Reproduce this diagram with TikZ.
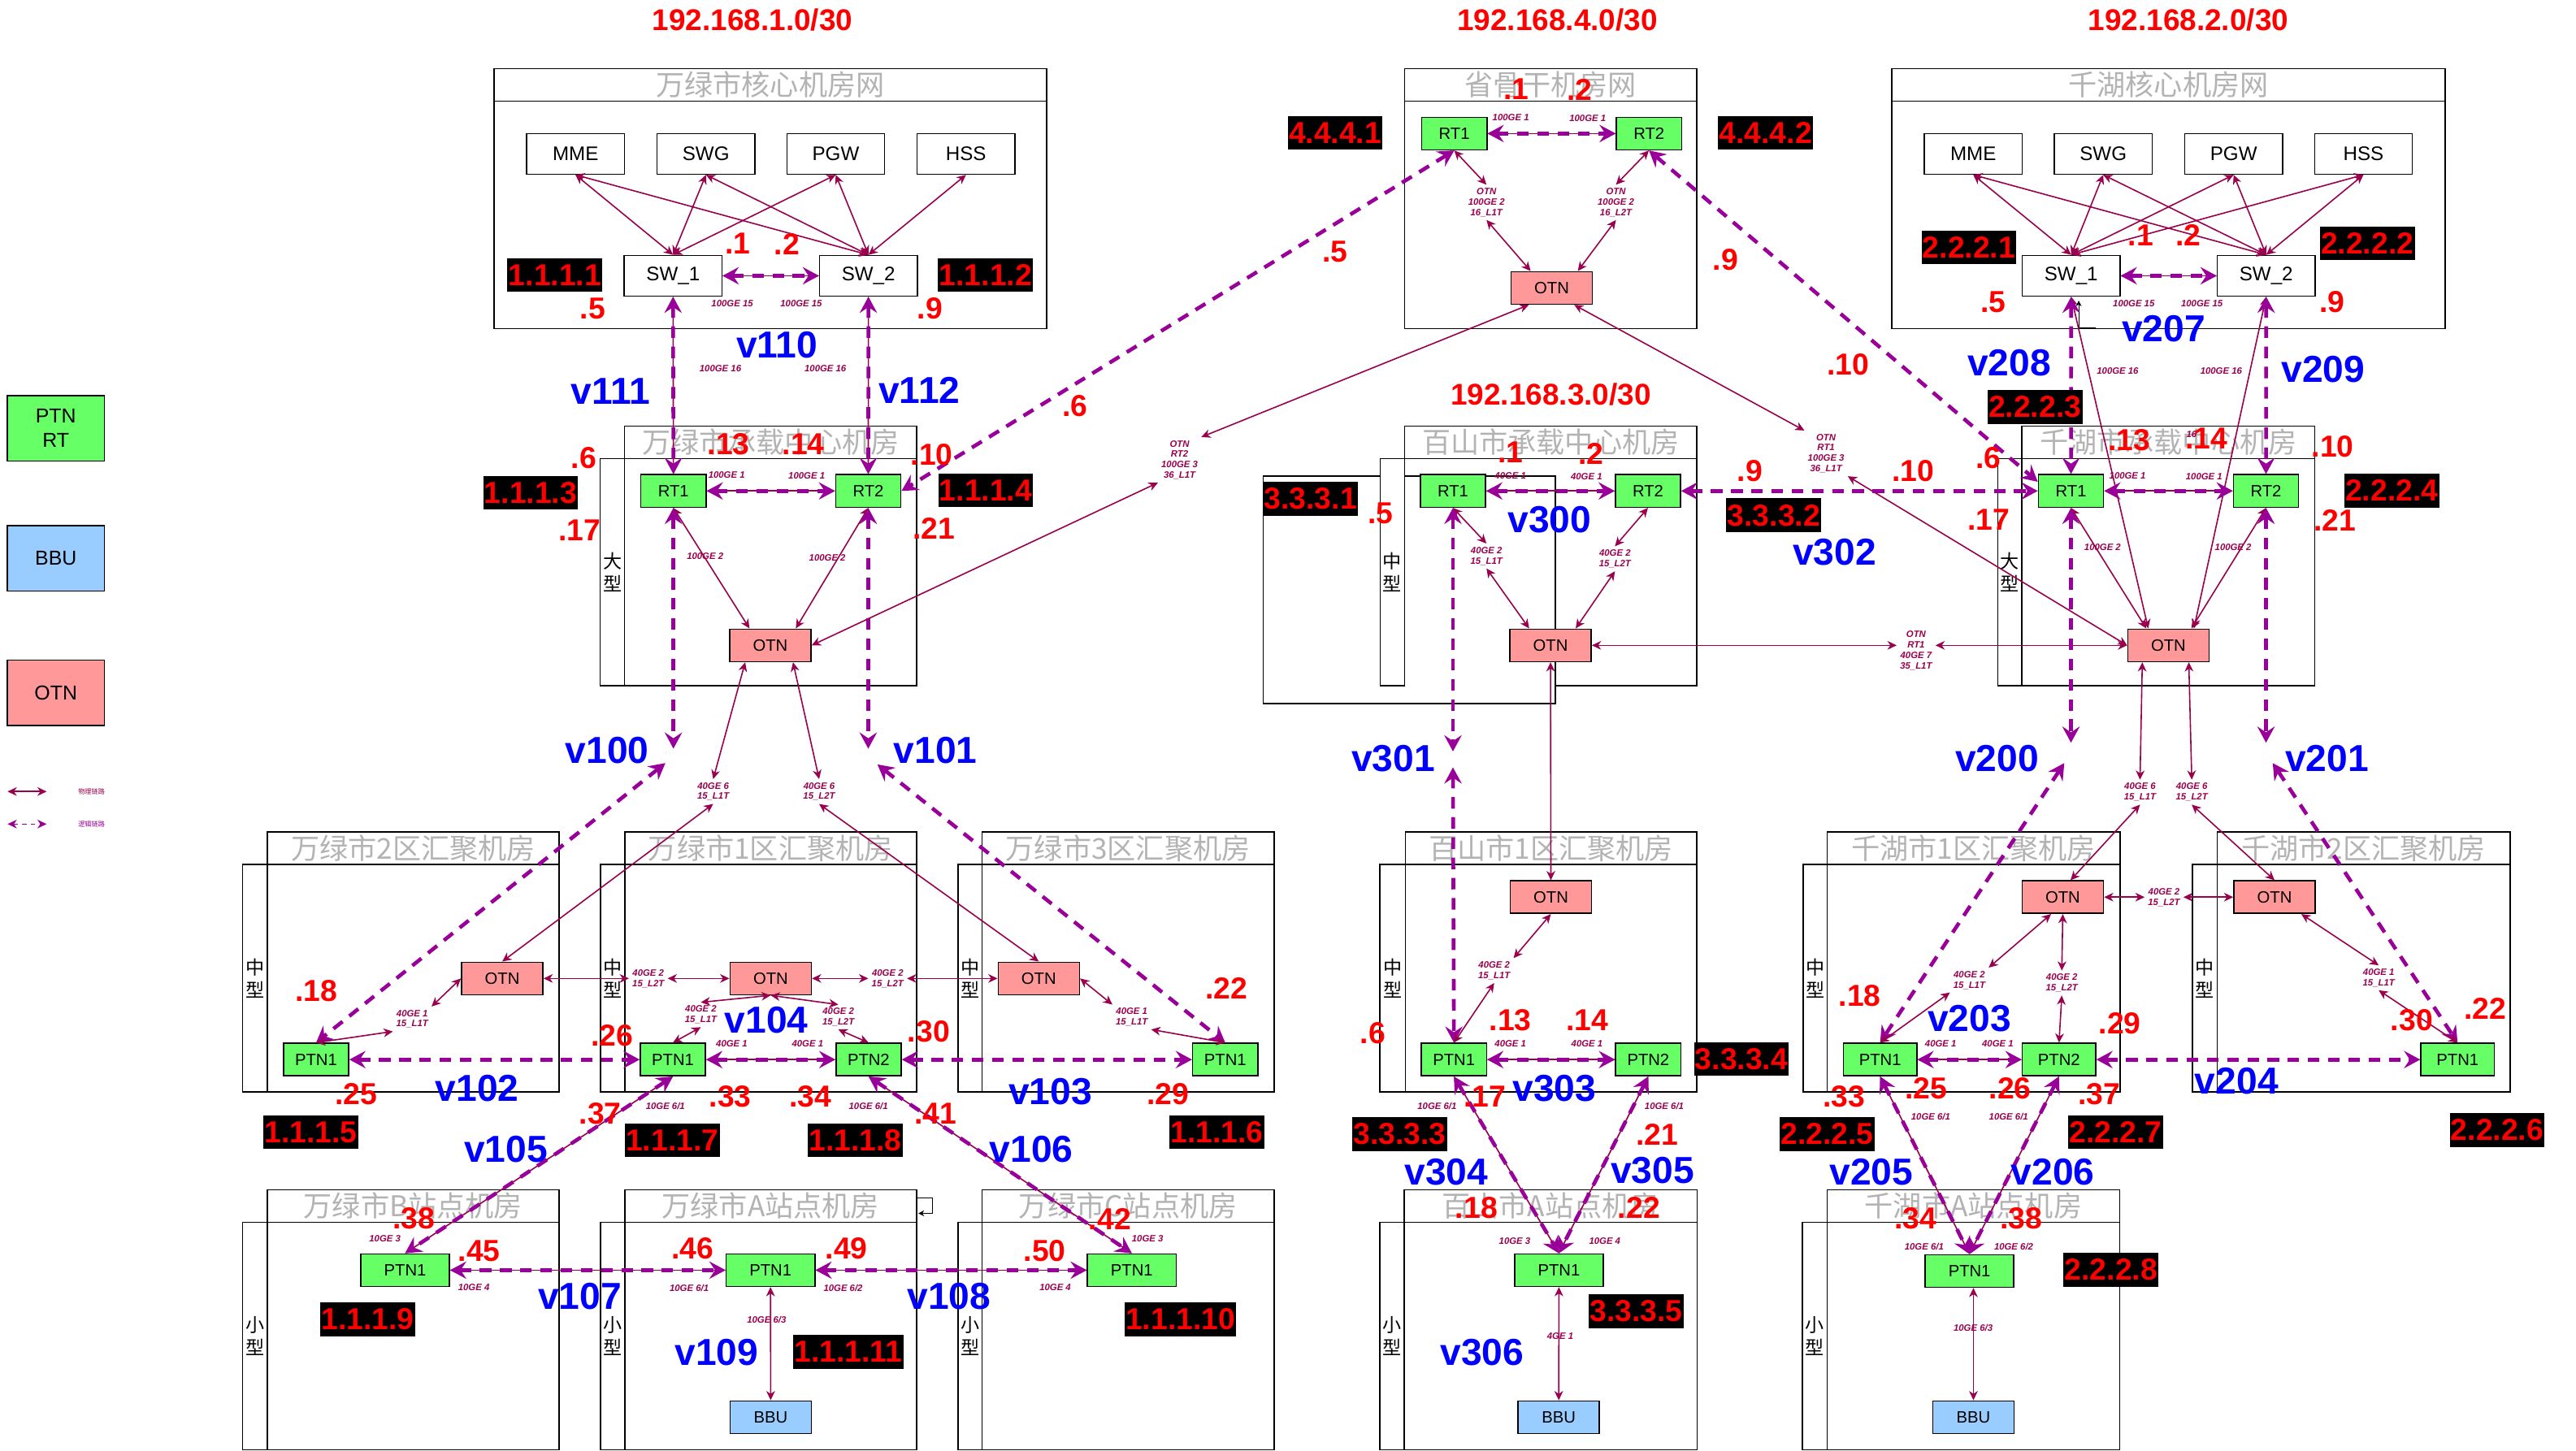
\documentclass[tikz,border=0pt]{standalone}
\usepackage{fontspec}
\setmainfont{Liberation Sans}
\newfontfamily\cjkfont{Noto Sans CJK SC}
\usetikzlibrary{arrows.meta,calc}

\definecolor{ptngreen}{HTML}{66FF66}
\definecolor{bbublue}{HTML}{99CCFF}
\definecolor{otnred}{HTML}{FF9999}
\definecolor{physcol}{HTML}{99004D}
\definecolor{logicol}{HTML}{990099}
\definecolor{titlegray}{HTML}{B3B3B3}

\tikzset{
  physhead/.tip={Stealth[length=3.2pt,width=3pt,inset=1pt]},
  logihead/.tip={Stealth[length=5.6pt,width=6pt,inset=2pt]},
  hallline/.style={draw=black, line width=0.45pt},
  halltitle/.style={font={\cjkfont\fontsize{9.9}{11}\selectfont}, text=titlegray, inner sep=0pt},
  sidetext/.style={font={\cjkfont\fontsize{6.5}{8}\selectfont}, align=center, inner sep=0pt},
  dev/.style={draw=black, line width=0.45pt, inner sep=0pt, minimum height=0.396cm, font=\fontsize{5.7}{6.8}\selectfont},
  corebox/.style={dev, fill=white, minimum width=1.19cm, minimum height=0.494cm, font=\fontsize{6.8}{8}\selectfont},
  rtbox/.style={dev, fill=ptngreen, minimum width=0.794cm},
  otnbox/.style={dev, fill=otnred, minimum width=0.99cm},
  siteptn/.style={dev, fill=ptngreen, minimum width=1.08cm},
  bbubox/.style={dev, fill=bbublue, minimum width=0.99cm},
  legbox/.style={dev, minimum width=1.18cm, minimum height=0.794cm, align=center, font=\fontsize{7}{8.4}\selectfont},
  phys/.style={draw=physcol, line width=0.45pt, physhead-physhead},
  logi/.style={draw=logicol, line width=1.3pt, dash pattern=on 4pt off 3pt, logihead-logihead},
  logithin/.style={draw=logicol, line width=0.4pt, dash pattern=on 1.5pt off 1.5pt, physhead-physhead},
  lbl/.style={font={\bfseries\itshape\fontsize{3.2}{3.6}\selectfont}, text=physcol, align=center, inner sep=1pt},
  ipdot/.style={font={\bfseries\fontsize{10.5}{12}\selectfont}, text=red, inner sep=0pt},
  ipbox/.style={fill=black, font={\bfseries\fontsize{10.5}{12}\selectfont}, text=red, inner xsep=0.4pt, inner ysep=0pt, minimum height=0.41cm},
  vtag/.style={font={\bfseries\fontsize{13}{15}\selectfont}, text=blue, inner sep=0pt},
  subnet/.style={font={\bfseries\fontsize{10.4}{12}\selectfont}, text=red, inner sep=0pt},
  legtext/.style={font={\cjkfont\fontsize{2.3}{3}\selectfont}, inner sep=0pt},
}

% core room: name, x1, x2, title
\newcommand{\corehall}[4]{%
  \draw[hallline] (#2,41.7) rectangle (#3,200);
  \draw[hallline] (#2,61.5) -- (#3,61.5);
  \node[halltitle] (#1) at ({(#2+#3)/2},51.6) {#4};
}
% room with side strip: name, x1, x2, ytop, ydiv, ybot, xstrip, title, side text
\newcommand{\roomhall}[9]{%
  \draw[hallline] (#2,#4) rectangle (#3,#5);
  \node[halltitle] (#1) at ({(#2+#3)/2},{(#4+#5)/2}) {#8};
  \draw[hallline] (#2,#5) rectangle (#3,#6);
  \draw[hallline,fill=white] (#7,#5) rectangle (#2,#6);
  \node[sidetext] (#1side) at ({(#7+#2)/2},{(#5+#6)/2}) {#9};
}

\begin{document}
\begin{tikzpicture}[x=0.02cm, y=-0.02cm]
\fill[white] (0,0) rectangle (1568,883);
\useasboundingbox (0,0) rectangle (1568,883);

% subnets
\node[subnet] (net1) at (458,12) {192.168.1.0/30};
\node[subnet] (net4) at (948,12) {192.168.4.0/30};
\node[subnet] (net2) at (1332,12) {192.168.2.0/30};
\node[subnet] (net3) at (944,240) {192.168.3.0/30};

% rooms
\corehall{wlCore}{300.8}{637}{万绿市核心机房网}
\corehall{sgCore}{854.9}{1032.8}{省骨干机房网}
\corehall{qhCore}{1151.6}{1488.2}{千湖核心机房网}

\roomhall{wlHub}{380.2}{557.9}{259.4}{279.2}{417.6}{365.3}{万绿市承载中心机房}{大\\型}
\roomhall{bsHub}{855}{1032.8}{259.4}{279.2}{417.6}{840.1}{百山市承载中心机房}{中\\型}
\draw[hallline,fill=white] (769,289.9) rectangle (946.7,428.4);
\draw[hallline,fill=white] (840.1,279.2) rectangle (855,417.6);
\node[sidetext] (bsHubside2) at (847.5,348.4) {中\\型};
\roomhall{qhHub}{1230.7}{1409}{259.4}{279.2}{417.6}{1216}{千湖市承载中心机房}{大\\型}

\roomhall{wlAgg2}{162.6}{340.4}{506.6}{526.4}{664.8}{147.6}{万绿市2区汇聚机房}{中\\型}
\roomhall{wlAgg1}{380.4}{557.8}{506.6}{526.4}{664.8}{365.4}{万绿市1区汇聚机房}{中\\型}
\roomhall{wlAgg3}{597.8}{775.5}{506.6}{526.4}{664.8}{583.2}{万绿市3区汇聚机房}{中\\型}
\roomhall{bsAgg1}{855.4}{1032.7}{506.6}{526.4}{664.8}{840}{百山市1区汇聚机房}{中\\型}
\roomhall{qhAgg1}{1112.2}{1290.4}{506.6}{526.4}{664.8}{1097.6}{千湖市1区汇聚机房}{中\\型}
\roomhall{qhAgg2}{1349.6}{1527.8}{506.6}{526.4}{664.8}{1334.6}{千湖市2区汇聚机房}{中\\型}

\roomhall{wlSiteB}{162.6}{340.4}{724.3}{744.1}{882.6}{147.6}{万绿市B站点机房}{小\\型}
\roomhall{wlSiteA}{380.4}{557.8}{724.3}{744.1}{882.6}{365.4}{万绿市A站点机房}{小\\型}
\roomhall{wlSiteC}{597.8}{775.5}{724.3}{744.1}{882.6}{583.2}{万绿市C站点机房}{小\\型}
\roomhall{bsSiteA}{854.6}{1033}{724.3}{744.1}{882.6}{840}{百山市A站点机房}{小\\型}
\roomhall{qhSiteA}{1112.2}{1290.2}{724.3}{744.1}{882.6}{1097.2}{千湖市A站点机房}{小\\型}

% stray connector stubs
\draw[black, line width=0.3pt, -{Stealth[length=2pt,width=2pt]}] (1275.5,199.5) -- (1265.3,199.5) -- (1265.3,183);
\draw[black, line width=0.3pt, -{Stealth[length=2pt,width=2pt]}] (557.8,729.3) -- (567.4,729.3) -- (567.4,738.7) -- (559,738.7);

% legend
\node[legbox, fill=ptngreen] (lgPTN) at (34,260.8) {PTN\\RT};
\node[legbox, fill=bbublue] (lgBBU) at (34,340) {BBU};
\node[legbox, fill=otnred] (lgOTN) at (34,421.8) {OTN};
\coordinate (lgA1) at (4.6,481.9);
\coordinate (lgA2) at (28.4,481.9);
\coordinate (lgB1) at (4.6,501.7);
\coordinate (lgB2) at (28.4,501.7);
\draw[phys] (lgA1) -- (lgA2);
\draw[logithin] (lgB1) -- (lgB2);
\node[legtext, text=physcol] (lgTxtA) at (55.7,481.9) {物理链路};
\node[legtext, text=logicol] (lgTxtB) at (55.7,501.7) {逻辑链路};

% core devices
\node[corebox] (wlMME) at (350.3,93.7) {MME};
\node[corebox] (wlSWG) at (429.7,93.7) {SWG};
\node[corebox] (wlPGW) at (508.7,93.7) {PGW};
\node[corebox] (wlHSS) at (588,93.7) {HSS};
\node[corebox] (wlSW1) at (409.7,167.9) {SW\_1};
\node[corebox] (wlSW2) at (528.6,167.9) {SW\_2};
\node[corebox] (qhMME) at (1201.1,93.7) {MME};
\node[corebox] (qhSWG) at (1280.2,93.7) {SWG};
\node[corebox] (qhPGW) at (1359.6,93.7) {PGW};
\node[corebox] (qhHSS) at (1438.6,93.7) {HSS};
\node[corebox] (qhSW1) at (1260.7,167.9) {SW\_1};
\node[corebox] (qhSW2) at (1379.4,167.9) {SW\_2};

% backbone and hub devices
\node[rtbox] (sgRT1) at (885.2,81.3) {RT1};
\node[rtbox] (sgRT2) at (1003.7,81.3) {RT2};
\node[otnbox] (sgOTN) at (944.5,175.3) {OTN};
\node[rtbox] (wlRT1) at (409.9,298.9) {RT1};
\node[rtbox] (wlRT2) at (528.5,298.9) {RT2};
\node[otnbox] (wlOTN) at (468.9,392.9) {OTN};
\node[rtbox] (bsRT1) at (884.4,298.9) {RT1};
\node[rtbox] (bsRT2) at (1003.1,298.9) {RT2};
\node[otnbox] (bsOTN) at (943.8,392.9) {OTN};
\node[rtbox] (qhRT1) at (1260.6,298.9) {RT1};
\node[rtbox] (qhRT2) at (1379.3,298.9) {RT2};
\node[otnbox] (qhOTN) at (1319.9,392.9) {OTN};

% aggregation devices
\node[otnbox] (wl2OTN) at (305.7,595.7) {OTN};
\node[rtbox] (wl2PTN1) at (192.4,645.1) {PTN1};
\node[otnbox] (wl1OTN) at (469.1,595.7) {OTN};
\node[rtbox] (wl1PTN1) at (409.6,645.1) {PTN1};
\node[rtbox] (wl1PTN2) at (528.7,645.1) {PTN2};
\node[otnbox] (wl3OTN) at (632.3,595.7) {OTN};
\node[rtbox] (wl3PTN1) at (745.8,645.1) {PTN1};
\node[otnbox] (bs1OTN) at (944,546.2) {OTN};
\node[rtbox] (bs1PTN1) at (885,645.1) {PTN1};
\node[rtbox] (bs1PTN2) at (1003.3,645.1) {PTN2};
\node[otnbox] (qh1OTN) at (1255.6,546.2) {OTN};
\node[rtbox, minimum width=0.894cm] (qh1PTN1) at (1144.4,645.1) {PTN1};
\node[rtbox, minimum width=0.894cm] (qh1PTN2) at (1253.3,645.1) {PTN2};
\node[otnbox] (qh2OTN) at (1384.5,546.2) {OTN};
\node[rtbox, minimum width=0.894cm] (qh2PTN1) at (1495.9,645.1) {PTN1};

% site devices
\node[siteptn] (wlBPTN) at (246.6,773.3) {PTN1};
\node[siteptn] (wlAPTN) at (469,773.3) {PTN1};
\node[bbubox] (wlABBU) at (469.1,862.8) {BBU};
\node[siteptn] (wlCPTN) at (688.9,773.3) {PTN1};
\node[siteptn] (bsAPTN) at (948.9,773.3) {PTN1};
\node[bbubox] (bsABBU) at (948.8,862.8) {BBU};
\node[siteptn] (qhAPTN) at (1198.8,773.8) {PTN1};
\node[bbubox] (qhABBU) at (1201.2,862.8) {BBU};

% labels sitting between link halves
\node[lbl] (sgL1) at (904.8,123.2) {OTN\\100GE 2\\16\_L1T};
\node[lbl] (sgL2) at (983.6,123.2) {OTN\\100GE 2\\16\_L2T};
\node[lbl] (sgLW) at (718,280) {OTN\\RT2\\100GE 3\\36\_L1T};
\node[lbl] (sgLE) at (1111.5,276) {OTN\\RT1\\100GE 3\\36\_L1T};
\node[lbl] (bsL1) at (904.8,338.5) {40GE 2\\15\_L1T};
\node[lbl] (bsL2) at (983,340.2) {40GE 2\\15\_L2T};
\node[lbl] (bsL7) at (1166.3,396) {OTN\\RT1\\40GE 7\\35\_L1T};
\node[lbl] (wlL6a) at (434.1,481.9) {40GE 6\\15\_L1T};
\node[lbl] (wlL6b) at (498.6,481.9) {40GE 6\\15\_L2T};
\node[lbl] (qhL6a) at (1302.6,482.3) {40GE 6\\15\_L1T};
\node[lbl] (qhL6b) at (1334.1,482.3) {40GE 6\\15\_L2T};
\node[lbl] (wl2L) at (250.9,620.4) {40GE 1\\15\_L1T};
\node[lbl] (wl1La) at (394.6,595.8) {40GE 2\\15\_L2T};
\node[lbl] (wl1Lb) at (540.3,595.8) {40GE 2\\15\_L2T};
\node[lbl] (wl1Lc) at (426.6,617.8) {40GE 2\\15\_L1T};
\node[lbl] (wl1Ld) at (510.3,619.2) {40GE 2\\15\_L2T};
\node[lbl] (wl3L) at (688.9,619.2) {40GE 1\\15\_L1T};
\node[lbl] (bs1L) at (909.5,590.9) {40GE 2\\15\_L1T};
\node[lbl] (qh1La) at (1317.2,546.4) {40GE 2\\15\_L2T};
\node[lbl] (qh1Lb) at (1198.7,596.7) {40GE 2\\15\_L1T};
\node[lbl] (qh1Lc) at (1255,598.5) {40GE 2\\15\_L2T};
\node[lbl] (qh2L) at (1447.9,595.3) {40GE 1\\15\_L1T};

% gaps in the logical links
\coordinate (wlGapL1) at (409.9,455.8);
\coordinate (wlGapL2) at (405,464.6);
\coordinate (wlGapR1) at (528.5,455.8);
\coordinate (wlGapR2) at (534.1,465.4);
\coordinate (bsGap1) at (884.4,457.5);
\coordinate (bsGap2) at (884.4,467.2);
\coordinate (qhGapL1) at (1260.6,452.2);
\coordinate (qhGapL2) at (1256.5,464.6);
\coordinate (qhGapR1) at (1379.3,452.2);
\coordinate (qhGapR2) at (1383.4,464.6);

% core links
\foreach \a in {wlMME,wlSWG,wlPGW}{
  \draw[phys] (\a.south) -- (wlSW1.north);
  \draw[phys] (\a.south) -- (wlSW2.north);
}
\draw[phys] (wlHSS.south) -- (wlSW2.north);
\foreach \a in {qhMME,qhSWG,qhPGW,qhHSS}{
  \draw[phys] (\a.south) -- (qhSW1.north);
  \draw[phys] (\a.south) -- (qhSW2.north);
}
\draw[phys] (wlSW1.east) -- (wlSW2.west);
\draw[logi] (wlSW1.east) -- (wlSW2.west);
\draw[phys] (qhSW1.east) -- (qhSW2.west);
\draw[logi] (qhSW1.east) -- (qhSW2.west);

% Wanlv hub
\draw[phys] (wlSW1.south) -- (wlRT1.north);
\draw[logi] (wlSW1.south) -- (wlRT1.north);
\draw[phys] (wlSW2.south) -- (wlRT2.north);
\draw[logi] (wlSW2.south) -- (wlRT2.north);
\draw[phys] (wlRT1.east) -- (wlRT2.west);
\draw[logi] (wlRT1.east) -- (wlRT2.west);
\draw[phys] (wlRT1.south) -- ($(wlOTN.north)+(-12.7,0)$);
\draw[phys] (wlRT2.south) -- ($(wlOTN.north)+(15.5,0)$);
\draw[logi] (wlRT1.south) -- (wlGapL1);
\draw[logi] (wlGapL2) -- (wl2PTN1.north);
\draw[logi] (wlRT2.south) -- (wlGapR1);
\draw[logi] (wlGapR2) -- (wl3PTN1.north);
\draw[phys] ($(wlOTN.south)+(-15.3,0)$) -- (wlL6a.north);
\draw[phys] ($(wlOTN.south)+(13.8,0)$) -- (wlL6b.north);
\draw[phys] (wlL6a.south) -- (wl2OTN.north);
\draw[phys] (wlL6b.south) -- (wl3OTN.north);

% backbone
\draw[phys] (sgRT1.east) -- (sgRT2.west);
\draw[logi] (sgRT1.east) -- (sgRT2.west);
\draw[phys] (sgRT1.south) -- (sgL1.north);
\draw[phys] (sgL1.south) -- ($(sgOTN.north)+(-12.8,0)$);
\draw[phys] (sgRT2.south) -- (sgL2.north);
\draw[phys] (sgL2.south) -- ($(sgOTN.north)+(15.9,0)$);
\draw[logi] (sgRT1.south) -- (wlRT2.east);
\draw[logi] (sgRT2.south) -- ($(qhRT1.west)+(0,-5.6)$);
\draw[phys] ($(sgOTN.south)+(-13.9,0)$) -- (sgLW.north east);
\draw[phys] (sgLW.south west) -- (wlOTN.east);
\draw[phys] ($(sgOTN.south)+(13.7,0)$) -- (sgLE.north west);
\draw[phys] (sgLE.south east) -- (qhOTN.west);

% Baishan hub
\draw[phys] (bsRT1.east) -- (bsRT2.west);
\draw[logi] (bsRT1.east) -- (bsRT2.west);
\draw[phys] (bsRT1.south) -- (bsL1.north);
\draw[phys] (bsL1.south) -- ($(bsOTN.north)+(-13,0)$);
\draw[phys] (bsRT2.south) -- (bsL2.north);
\draw[phys] (bsL2.south) -- ($(bsOTN.north)+(15.3,0)$);
\draw[logi] (bsRT2.east) -- (qhRT1.west);
\draw[logi] (bsRT1.south) -- (bsGap1);
\draw[logi] (bsGap2) -- (bs1PTN1.north);
\draw[phys] (bsOTN.east) -- (bsL7.west |- bsOTN.east);
\draw[phys] (bsL7.east |- qhOTN.west) -- (qhOTN.west);
\draw[phys] (bsOTN.south) -- (bs1OTN.north);

% Qianhu hub
\draw[phys] (qhSW1.south) -- ($(qhOTN.north)+(-12.3,0)$);
\draw[phys] (qhSW2.south) -- ($(qhOTN.north)+(15.5,0)$);
\draw[logi] (qhSW1.south) -- (qhRT1.north);
\draw[logi] (qhSW2.south) -- (qhRT2.north);
\draw[phys] (qhRT1.east) -- (qhRT2.west);
\draw[logi] (qhRT1.east) -- (qhRT2.west);
\draw[phys] (qhRT1.south) -- ($(qhOTN.north)+(-13.5,0)$);
\draw[phys] (qhRT2.south) -- ($(qhOTN.north)+(14,0)$);
\draw[logi] (qhRT1.south) -- (qhGapL1);
\draw[logi] (qhGapL2) -- (qh1PTN1.north);
\draw[logi] (qhRT2.south) -- (qhGapR1);
\draw[logi] (qhGapR2) -- (qh2PTN1.north);
\draw[phys] ($(qhOTN.south)+(-15.9,0)$) -- (qhL6a.north);
\draw[phys] ($(qhOTN.south)+(12.4,0)$) -- (qhL6b.north);
\draw[phys] (qhL6a.south) -- ($(qh1OTN.north)+(4.7,0)$);
\draw[phys] (qhL6b.south) -- (qh2OTN.north);

% Wanlv aggregation
\draw[phys] (wl2OTN.west) -- (wl2L.north east);
\draw[phys] (wl2L.south west) -- (wl2PTN1.north);
\draw[phys] (wl2OTN.east) -- (wl1La.west |- wl2OTN.east);
\draw[phys] (wl1La.east |- wl1OTN.west) -- (wl1OTN.west);
\draw[phys] (wl1OTN.east) -- (wl1Lb.west |- wl1OTN.east);
\draw[phys] (wl1Lb.east |- wl3OTN.west) -- (wl3OTN.west);
\draw[phys] (wl1OTN.south) -- (wl1Lc.north);
\draw[phys] (wl1Lc.south) -- (wl1PTN1.north);
\draw[phys] (wl1OTN.south) -- (wl1Ld.north);
\draw[phys] (wl1Ld.south) -- (wl1PTN2.north);
\draw[phys] (wl3OTN.east) -- (wl3L.north west);
\draw[phys] (wl3L.south east) -- (wl3PTN1.north);
\draw[logi] (wl2PTN1.east) -- (wl1PTN1.west);
\draw[phys] (wl1PTN1.east) -- (wl1PTN2.west);
\draw[logi] (wl1PTN1.east) -- (wl1PTN2.west);
\draw[logi] (wl1PTN2.east) -- (wl3PTN1.west);
\draw[phys] (wl1PTN1.south) -- (wlBPTN.north);
\draw[logi] (wl1PTN1.south) -- (wlBPTN.north);
\draw[phys] (wl1PTN2.south) -- (wlCPTN.north);
\draw[logi] (wl1PTN2.south) -- (wlCPTN.north);

% Wanlv sites
\draw[phys] (wlBPTN.east) -- (wlAPTN.west);
\draw[logi] (wlBPTN.east) -- (wlAPTN.west);
\draw[phys] (wlAPTN.east) -- (wlCPTN.west);
\draw[logi] (wlAPTN.east) -- (wlCPTN.west);
\draw[phys] (wlAPTN.south) -- (wlABBU.north);

% Baishan aggregation and site
\draw[phys] (bs1OTN.south) -- (bs1L.north east);
\draw[phys] (bs1L.south) -- (bs1PTN1.north);
\draw[phys] (bs1PTN1.east) -- (bs1PTN2.west);
\draw[logi] (bs1PTN1.east) -- (bs1PTN2.west);
\draw[phys] (bs1PTN1.south) -- (bsAPTN.north);
\draw[logi] (bs1PTN1.south) -- (bsAPTN.north);
\draw[phys] (bs1PTN2.south) -- (bsAPTN.north);
\draw[logi] (bs1PTN2.south) -- (bsAPTN.north);
\draw[phys] (bsAPTN.south) -- (bsABBU.north);

% Qianhu aggregation and site
\draw[phys] (qh1OTN.east) -- (qh1La.west |- qh1OTN.east);
\draw[phys] (qh1La.east |- qh2OTN.west) -- (qh2OTN.west);
\draw[phys] ($(qh1OTN.south)+(-7.1,0)$) -- (qh1Lb.north east);
\draw[phys] (qh1Lb.south west) -- (qh1PTN1.north);
\draw[phys] (qh1OTN.south) -- (qh1Lc.north);
\draw[phys] (qh1Lc.south) -- (qh1PTN2.north);
\draw[phys] ($(qh2OTN.south)+(16.3,0)$) -- (qh2L.north);
\draw[phys] (qh2L.south) -- (qh2PTN1.north);
\draw[phys] (qh1PTN1.east) -- (qh1PTN2.west);
\draw[logi] (qh1PTN1.east) -- (qh1PTN2.west);
\draw[logi] (qh1PTN2.east) -- (qh2PTN1.west);
\draw[phys] (qh1PTN1.south) -- (qhAPTN.north);
\draw[logi] (qh1PTN1.south) -- (qhAPTN.north);
\draw[phys] (qh1PTN2.south) -- (qhAPTN.north);
\draw[logi] (qh1PTN2.south) -- (qhAPTN.north);
\draw[phys] (qhAPTN.south -| qhABBU.north) -- (qhABBU.north);

% port labels
\node[lbl] (wlG15a) at (445.7,185) {100GE 15};
\node[lbl] (wlG15b) at (487.7,185) {100GE 15};
\node[lbl] (wlG16a) at (438.5,224.6) {100GE 16};
\node[lbl] (wlG16b) at (502.4,224.6) {100GE 16};
\node[lbl] (wlG1a) at (442.3,289) {100GE 1};
\node[lbl] (wlG1b) at (491,289.7) {100GE 1};
\node[lbl] (wlG2a) at (429.2,338.5) {100GE 2};
\node[lbl] (wlG2b) at (503.6,339.7) {100GE 2};
\node[lbl] (sgG1a) at (919.6,71.7) {100GE 1};
\node[lbl] (sgG1b) at (966.4,72.2) {100GE 1};
\node[lbl] (bsG1a) at (919.4,289.4) {40GE 1};
\node[lbl] (bsG1b) at (965.7,289.9) {40GE 1};
\node[lbl] (qhG15a) at (1298.8,185) {100GE 15};
\node[lbl] (qhG15b) at (1340.3,185) {100GE 15};
\node[lbl] (qhG16a) at (1289,226) {100GE 16};
\node[lbl] (qhG16b) at (1352,226) {100GE 16};
\node[lbl] (qhG16c) at (1334,264.6) {16};
\node[lbl] (qhG1a) at (1295,289.4) {100GE 1};
\node[lbl] (qhG1b) at (1341.6,289.9) {100GE 1};
\node[lbl] (qhG2a) at (1279.8,333.4) {100GE 2};
\node[lbl] (qhG2b) at (1359.3,333.4) {100GE 2};
\node[lbl] (wlE1a) at (445.4,635.6) {40GE 1};
\node[lbl] (wlE1b) at (491.6,635.6) {40GE 1};
\node[lbl] (wlT1a) at (405,673.6) {10GE 6/1};
\node[lbl] (wlT1b) at (528.6,673.6) {10GE 6/1};
\node[lbl] (wlB3) at (234.3,754.3) {10GE 3};
\node[lbl] (wlB4) at (288.4,784) {10GE 4};
\node[lbl] (wlA61) at (419.5,784) {10GE 6/1};
\node[lbl] (wlA62) at (513.2,784) {10GE 6/2};
\node[lbl] (wlA63) at (466.6,803.5) {10GE 6/3};
\node[lbl] (wlC3) at (698.5,754.3) {10GE 3};
\node[lbl] (wlC4) at (642.3,784) {10GE 4};
\node[lbl] (bsE1a) at (919.4,635.6) {40GE 1};
\node[lbl] (bsE1b) at (966,635.6) {40GE 1};
\node[lbl] (bsT1a) at (874.7,673.6) {10GE 6/1};
\node[lbl] (bsT1b) at (1013,673.6) {10GE 6/1};
\node[lbl] (bsA3) at (922,755.6) {10GE 3};
\node[lbl] (bsA4) at (976.8,755.6) {10GE 4};
\node[lbl] (bsA41) at (949.7,813.7) {4GE 1};
\node[lbl] (qhE1a) at (1181.3,635.6) {40GE 1};
\node[lbl] (qhE1b) at (1216,635.6) {40GE 1};
\node[lbl] (qhT1a) at (1175.2,680.1) {10GE 6/1};
\node[lbl] (qhT1b) at (1222.6,680.1) {10GE 6/1};
\node[lbl] (qhA61) at (1171.2,758.8) {10GE 6/1};
\node[lbl] (qhA62) at (1225.7,758.8) {10GE 6/2};
\node[lbl] (qhA63) at (1201,808.7) {10GE 6/3};

% interface addresses
\foreach [count=\i] \x/\y/\t in {449/148.4/.1, 479/148.4/.2, 360.8/188/.5, 566/188/.9,
  922.9/54.4/.1, 961.5/54.4/.2, 812.5/153.3/.5, 1050.3/158.3/.9,
  1303.1/143.4/.1, 1331.9/143.4/.2, 1213.2/183.8/.5, 1419.4/183.8/.9,
  355.3/278.6/.6, 443.5/270.4/.13, 489/270.4/.14, 567.2/277/.10, 352.7/323/.17, 568.5/321.5/.21, 654.3/247.3/.6,
  919.4/275.4/.1, 968.4/276.2/.2, 840.4/312.4/.5, 1065.1/286.9/.9, 1164.4/286.9/.10, 1125/222/.10,
  1210.4/278.6/.6, 1296.2/268/.13, 1343/267.1/.14, 1419.9/272/.10, 1210.4/316.6/.17, 1421.2/316.6/.21,
  192.6/603.3/.18, 216.7/666/.25, 372.5/630.7/.26, 565.3/628/.30, 444.5/667.4/.33, 493.3/667.4/.34,
  365.4/678/.37, 569.4/678/.41, 746.4/601.5/.22, 711/666/.29,
  251.8/742/.38, 291.7/761.7/.45, 421.6/760/.46, 515.3/760/.49, 675.6/742/.42, 636/761.7/.50,
  835.7/628.9/.6, 919.4/621/.13, 966/621/.14, 903.8/667.8/.17, 1008.7/690.7/.21,
  898.7/735.4/.18, 997.6/735.4/.22,
  1132/606/.18, 1172.4/662.8/.25, 1223.6/662.8/.26, 1290.4/623.2/.29, 1122.5/667.8/.33,
  1277.6/666/.37, 1468/621/.30, 1512.7/613.9/.22,
  1166/742/.34, 1230.2/742/.38}
  \node[ipdot] (dot\i) at (\x,\y) {\t};

% loopback addresses
\foreach [count=\i] \x/\y/\t in {337.8/167.5/1.1.1.1, 599.9/167.5/1.1.1.2, 323/300/1.1.1.3, 600/298.6/1.1.1.4,
  812.7/81/4.4.4.1, 1074.7/81/4.4.4.2, 797.7/303.7/3.3.3.1, 1079.7/313.7/3.3.3.2,
  1198.5/150.5/2.2.2.1, 1440.9/148/2.2.2.2, 1238.6/247.7/2.2.2.3, 1455.8/298.7/2.2.2.4,
  189.1/689.4/1.1.1.5, 409.2/694.3/1.1.1.7, 520.5/694.3/1.1.1.8, 740.8/689.4/1.1.1.6,
  1060/644.8/3.3.3.4, 852/690.4/3.3.3.3, 1112.2/690.4/2.2.2.5, 1287.8/689.4/2.2.2.7, 1520/688/2.2.2.6,
  223.8/803.2/1.1.1.9, 516.4/823/1.1.1.11, 718.5/803.2/1.1.1.10, 996/798.3/3.3.3.5, 1285/773/2.2.2.8}
  \node[ipbox] (ip\i) at (\x,\y) {\t};

% vlan tags
\foreach [count=\i] \x/\y/\t in {473/210/v110, 371.6/238.3/v111, 559.6/237.4/v112,
  1317/200/v207, 1223/221/v208, 1414/225/v209,
  369.6/456.6/v100, 569.4/456.6/v101, 943.2/316.6/v300, 1116.7/336.4/v302, 848/462/v301,
  1215.6/462/v200, 1416.4/462/v201,
  290.4/662.5/v102, 639.4/664.6/v103, 466.6/621/v104, 308/699.6/v105, 627.7/699.6/v106,
  352.9/789/v107, 577.7/789/v108, 436.2/823.6/v109,
  946.2/662.5/v303, 880.4/713.7/v304, 1005.9/712.8/v305, 902.2/823.6/v306,
  1198.7/620/v203, 1361.4/658/v204, 1139/713.7/v205, 1249.5/713.7/v206}
  \node[vtag] (vl\i) at (\x,\y) {\t};
\end{tikzpicture}
\end{document}
